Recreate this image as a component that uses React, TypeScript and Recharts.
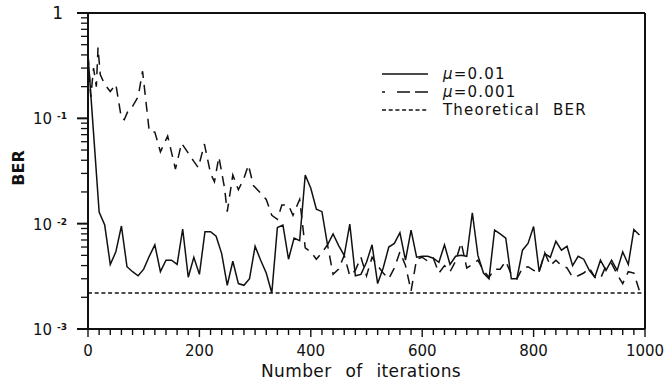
import React from 'react'
import { LineChart, Line, XAxis, YAxis, ReferenceLine } from 'recharts'

// mu = 0.01, solid line, one sample every 10 iterations
const fastIter = [
  0, 10, 20, 30, 40, 50, 60, 70, 80, 90,
  100, 110, 120, 130, 140, 150, 160, 170, 180, 190,
  200, 210, 220, 230, 240, 250, 260, 270, 280, 290,
  300, 310, 320, 330, 340, 350, 360, 370, 380, 390,
  400, 410, 420, 430, 440, 450, 460, 470, 480, 490,
  500, 510, 520, 530, 540, 550, 560, 570, 580, 590,
  600, 610, 620, 630, 640, 650, 660, 670, 680, 690,
  700, 710, 720, 730, 740, 750, 760, 770, 780, 790,
  800, 810, 820, 830, 840, 850, 860, 870, 880, 890,
  900, 910, 920, 930, 940, 950, 960, 970, 980, 990,
]
const fastBer = [
  0.4, 0.072, 0.0129, 0.0097, 0.0041, 0.0054, 0.0095, 0.0039, 0.0035, 0.0032,
  0.0037, 0.0049, 0.0063, 0.0035, 0.0045, 0.0045, 0.0041, 0.0089, 0.0031, 0.0048,
  0.0033, 0.0084, 0.0084, 0.0076, 0.0052, 0.0026, 0.0044, 0.0027, 0.0026, 0.003,
  0.0061, 0.0045, 0.0034, 0.0022, 0.0092, 0.0097, 0.0046, 0.0073, 0.0069, 0.029,
  0.0217, 0.0137, 0.013, 0.0063, 0.008, 0.0062, 0.005, 0.0099, 0.0032, 0.0033,
  0.0043, 0.0063, 0.0027, 0.0038, 0.006, 0.0065, 0.0082, 0.0045, 0.0087, 0.0048,
  0.0049, 0.0049, 0.0047, 0.0043, 0.0063, 0.0041, 0.0049, 0.005, 0.0049, 0.0127,
  0.005, 0.0034, 0.003, 0.0087, 0.008, 0.0073, 0.003, 0.003, 0.0056, 0.0065,
  0.0094, 0.0035, 0.0052, 0.0048, 0.0068, 0.0056, 0.0061, 0.004, 0.0049, 0.0046,
  0.0036, 0.0031, 0.0045, 0.0036, 0.0045, 0.0036, 0.0054, 0.0041, 0.0088, 0.0078,
]

// mu = 0.001, long dashes
const slowIter = [
  0, 5, 10, 15, 18, 22, 30, 40, 50, 60,
  65, 72, 80, 90, 98, 110, 120, 130, 143, 157,
  168, 190, 198, 209, 220, 227, 235, 245, 250, 260,
  270, 280, 288, 297, 308, 320, 330, 340, 348, 360,
  368, 380, 390, 400, 410, 420, 430, 440, 450,
  460, 470, 480, 490, 500, 510, 520, 530, 540, 550,
  560, 570, 580, 590, 600, 610, 620, 630, 640, 650,
  660, 670, 680, 690, 700, 710, 720, 730, 740, 750,
  760, 770, 780, 790, 800, 810, 820, 830, 840, 850,
  860, 870, 880, 890, 900, 910, 920, 930, 940, 950,
  960, 970, 980, 990,
]
const slowBer = [
  0.4, 0.16, 0.3, 0.2, 0.47, 0.26, 0.21, 0.18, 0.21, 0.1,
  0.097, 0.118, 0.13, 0.16, 0.28, 0.075, 0.074, 0.048, 0.068, 0.033,
  0.058, 0.039, 0.034, 0.057, 0.03, 0.025, 0.043, 0.022, 0.013, 0.029,
  0.021, 0.027, 0.036, 0.023, 0.02, 0.017, 0.012, 0.011, 0.015, 0.015,
  0.012, 0.017, 0.0059, 0.0054, 0.0046, 0.0053, 0.0063, 0.0033, 0.0037,
  0.005, 0.0032, 0.0036, 0.0048, 0.0032, 0.0048, 0.004, 0.0034, 0.003, 0.0038,
  0.0054, 0.004, 0.0023, 0.0046, 0.0048, 0.0044, 0.0047, 0.0034, 0.004, 0.0035,
  0.0044, 0.0066, 0.0038, 0.0041, 0.0045, 0.0036, 0.0031, 0.0037, 0.0037, 0.0044,
  0.0033, 0.003, 0.0038, 0.0039, 0.0036, 0.0035, 0.0053, 0.004, 0.0045, 0.004,
  0.0038, 0.0031, 0.0032, 0.0034, 0.0038, 0.0031, 0.003, 0.004, 0.0042, 0.0033,
  0.0027, 0.0035, 0.0034, 0.0023,
]

// theoretical BER, flat
const theoryIter = [0, 1000]
const theoryBer = [0.0022, 0.0022]

const xLabels = [0, 200, 400, 600, 800, 1000]
const yDecades = [0.001, 0.01, 0.1, 1]
const yExponents = ['-3', '-2', '-1', '']
const yMinor = [
  0.002, 0.003, 0.004, 0.005, 0.006, 0.007, 0.008, 0.009,
  0.02, 0.03, 0.04, 0.05, 0.06, 0.07, 0.08, 0.09,
  0.2, 0.3, 0.4, 0.5, 0.6, 0.7, 0.8, 0.9,
]

const INK = '#111'
const FONT = '"DejaVu Sans", sans-serif'

const fastData = fastIter.map((iter, i) => ({ iter, ber: fastBer[i] }))
const slowData = slowIter.map((iter, i) => ({ iter, ber: slowBer[i] }))
const theoryData = theoryIter.map((iter, i) => ({ iter, ber: theoryBer[i] }))

const xTicks = Array.from({ length: 51 }, (_, i) => i * 20)
const yTicks = [...yDecades, ...yMinor].sort((a, b) => a - b)

const renderXTick = (props: any) => {
  const { x, y, payload } = props
  const major = xLabels.includes(payload.value)
  return (
    <g>
      <line x1={x} y1={y} x2={x} y2={y + (major ? 8 : 6)} stroke={INK} strokeWidth={1.4} />
      {major && (
        <text x={x} y={y + 27} textAnchor="middle" fontSize={15} fontFamily={FONT} fill={INK}>
          {payload.value}
        </text>
      )}
    </g>
  )
}

const renderYTick = (props: any) => {
  const { x, y, payload } = props
  const k = yDecades.indexOf(payload.value)
  if (k < 0) {
    return <line x1={x - 7} y1={y} x2={x} y2={y} stroke={INK} strokeWidth={1.3} />
  }
  const exp = yExponents[k]
  return (
    <g>
      <line x1={x - 11} y1={y} x2={x} y2={y} stroke={INK} strokeWidth={2} />
      {exp ? (
        <>
          <text x={x - 36} y={y + 6} textAnchor="end" fontSize={15} fontFamily={FONT} fill={INK}>
            10
          </text>
          <text x={x - 31} y={y + 1} fontSize={9} fontWeight="bold" fontFamily={FONT} fill={INK}>
            {exp}
          </text>
        </>
      ) : (
        <text x={x - 25} y={y + 6} textAnchor="end" fontSize={17} fontFamily={FONT} fill={INK}>
          1
        </text>
      )}
    </g>
  )
}

const App: React.FC = () => {
  return (
    <div style={{ position: 'absolute', left: 0, top: 0, width: 666, height: 382, background: '#fff' }}>
      <LineChart width={666} height={382} margin={{ top: 13, right: 21, bottom: 0, left: 0 }}>
        <XAxis
          dataKey="iter"
          type="number"
          domain={[0, 1000]}
          ticks={xTicks}
          interval={0}
          allowDataOverflow
          height={53}
          tickSize={0}
          tickMargin={0}
          tickLine={false}
          axisLine={{ stroke: INK, strokeWidth: 2 }}
          tick={renderXTick}
        />
        <YAxis
          type="number"
          scale="log"
          domain={[0.001, 1]}
          ticks={yTicks}
          interval={0}
          allowDataOverflow
          width={88}
          tickSize={0}
          tickMargin={0}
          tickLine={false}
          axisLine={{ stroke: INK, strokeWidth: 2 }}
          tick={renderYTick}
        />
        <ReferenceLine y={1} stroke={INK} strokeWidth={2} />
        <ReferenceLine x={1000} stroke={INK} strokeWidth={2} />
        <Line
          data={theoryData}
          dataKey="ber"
          type="linear"
          stroke={INK}
          strokeWidth={1.5}
          strokeDasharray="4 2.7"
          dot={false}
          isAnimationActive={false}
        />
        <Line
          data={slowData}
          dataKey="ber"
          type="linear"
          stroke={INK}
          strokeWidth={1.5}
          strokeDasharray="10 7"
          dot={false}
          isAnimationActive={false}
        />
        <Line
          data={fastData}
          dataKey="ber"
          type="linear"
          stroke={INK}
          strokeWidth={1.5}
          dot={false}
          isAnimationActive={false}
        />
      </LineChart>

      <svg
        width={666}
        height={382}
        style={{ position: 'absolute', left: 0, top: 0, pointerEvents: 'none' }}
        fontFamily={FONT}
        fill={INK}
      >
        <text x={18} y={168} transform="rotate(-90 18 168)" textAnchor="middle" dominantBaseline="central" fontSize={16} fontWeight="bold">
          BER
        </text>
        <text x={361} y={377} textAnchor="middle" fontSize={17} wordSpacing={8} letterSpacing={0.4}>
          Number of iterations
        </text>

        <line x1={382} y1={74} x2={428} y2={74} stroke={INK} strokeWidth={1.5} />
        <line x1={382} y1={92} x2={428} y2={92} stroke={INK} strokeWidth={1.5} strokeDasharray="3 12 13 5 13 5" />
        <line x1={382} y1={110} x2={428} y2={110} stroke={INK} strokeWidth={1.5} strokeDasharray="4 2.7" />
        <text x={443} y={79} fontSize={15} letterSpacing={1.2}>
          <tspan fontStyle="italic">μ</tspan>=0.01
        </text>
        <text x={443} y={97} fontSize={15} letterSpacing={1.2}>
          <tspan fontStyle="italic">μ</tspan>=0.001
        </text>
        <text x={443} y={115} fontSize={15} letterSpacing={1.2} wordSpacing={7}>
          Theoretical BER
        </text>
      </svg>
    </div>
  )
}

export default App
